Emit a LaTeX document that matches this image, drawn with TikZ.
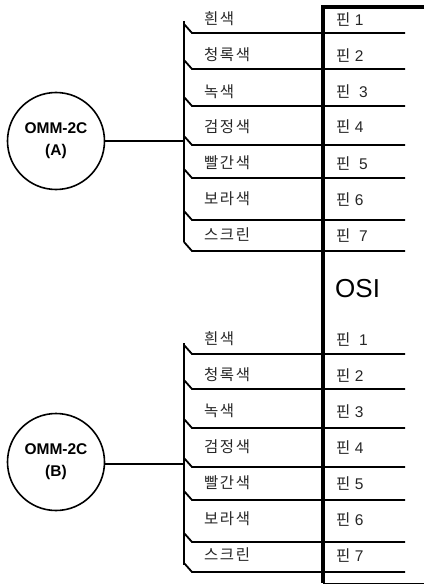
\documentclass[tikz,border=0pt]{standalone}
\usepackage{fontspec}
\setmainfont{Liberation Sans}
\newfontfamily\krfont[LetterSpace=10]{Noto Sans CJK KR}
\usetikzlibrary{positioning}

\tikzset{
  sensor/.style={draw, circle, line width=1.6pt, minimum size=97pt, inner sep=0pt, align=center, font=\fontsize{15.5}{22}\selectfont\bfseries},
  colorlabel/.style={anchor=west, inner sep=0pt, text=black!85, font=\fontsize{15.5}{16}\selectfont\krfont},
  pinlabel/.style={anchor=west, inner sep=0pt, text=black!85, font=\fontsize{15.5}{16}\selectfont},
  wire/.style={line width=1.8pt, line join=miter},
  frame/.style={line width=4pt}
}
\newcommand{\pinword}{{\krfont 핀}}

\begin{document}
\begin{tikzpicture}[x=1pt, y=-1pt]
\useasboundingbox (0,0) rectangle (424,585);

% OSI terminal strip
\coordinate (corner) at (323,7);
\coordinate (topend) at (424,7);
\coordinate (barend) at (323,583);
\coordinate (baseend) at (424,583);
\draw[frame] (topend) -- (corner) -- (barend);
\draw[line width=0.7pt] (barend) -- (baseend);
\node[anchor=west, inner sep=0pt, font=\fontsize{26}{28}\selectfont] (osi) at (335,289) {OSI};

% Sensor A
\node[sensor] (sensora) at (56,141) {OMM-2C\\(A)};
\coordinate (busa) at (184,141);
\coordinate (busatop) at (184,21);
\coordinate (busabot) at (184,242);
\draw[wire] (sensora) -- (busa);
\draw[wire] (busatop) -- (busabot);

% Wires A
\coordinate (wa1) at (192,33);   \coordinate (ea1) at (405,33);
\coordinate (wa2) at (192,69);   \coordinate (ea2) at (405,69);
\coordinate (wa3) at (192,106);  \coordinate (ea3) at (405,106);
\coordinate (wa4) at (192,145);  \coordinate (ea4) at (405,145);
\coordinate (wa5) at (192,178);  \coordinate (ea5) at (405,178);
\coordinate (wa6) at (192,220);  \coordinate (ea6) at (405,220);
\coordinate (wa7) at (192,251);  \coordinate (ea7) at (405,251);
\draw[wire] (ea1) -- (wa1) -- ++(-8,-9);
\draw[wire] (ea2) -- (wa2) -- ++(-8,-9);
\draw[wire] (ea3) -- (wa3) -- ++(-8,-9);
\draw[wire] (ea4) -- (wa4) -- ++(-8,-9);
\draw[wire] (ea5) -- (wa5) -- ++(-8,-9);
\draw[wire] (ea6) -- (wa6) -- ++(-8,-9);
\draw[wire] (ea7) -- (wa7) -- ++(-8,-9);

% Labels A
\node[colorlabel] (ca1) at (204,19) {흰색};
\node[colorlabel] (ca2) at (204,55) {청록색};
\node[colorlabel] (ca3) at (204,92) {녹색};
\node[colorlabel] (ca4) at (204,127) {검정색};
\node[colorlabel] (ca5) at (204,163) {빨간색};
\node[colorlabel] (ca6) at (204,199) {보라색};
\node[colorlabel] (ca7) at (204,235) {스크린};
\node[pinlabel] (pa1) at (336,20) {\pinword\ 1};
\node[pinlabel] (pa2) at (336,56) {\pinword\ 2};
\node[pinlabel] (pa3) at (336,92) {\pinword\ \ 3};
\node[pinlabel] (pa4) at (336,127) {\pinword\ 4};
\node[pinlabel] (pa5) at (336,164) {\pinword\ \ 5};
\node[pinlabel] (pa6) at (336,200) {\pinword\ 6};
\node[pinlabel] (pa7) at (336,236) {\pinword\ \ 7};

% Sensor B
\node[sensor] (sensorb) at (56,462) {OMM-2C\\(B)};
\coordinate (busb) at (184,464);
\coordinate (busbtop) at (184,343);
\coordinate (busbbot) at (184,565);
\draw[wire] (sensorb.east |- busb) -- (busb);
\draw[wire] (busbtop) -- (busbbot);

% Wires B
\coordinate (wb1) at (192,354);  \coordinate (eb1) at (405,354);
\coordinate (wb2) at (192,389);  \coordinate (eb2) at (405,389);
\coordinate (wb3) at (192,428);  \coordinate (eb3) at (405,428);
\coordinate (wb4) at (192,467);  \coordinate (eb4) at (405,467);
\coordinate (wb5) at (192,500);  \coordinate (eb5) at (405,500);
\coordinate (wb6) at (192,542);  \coordinate (eb6) at (405,542);
\coordinate (wb7) at (192,572);  \coordinate (eb7) at (405,572);
\draw[wire] (eb1) -- (wb1) -- ++(-8,-9);
\draw[wire] (eb2) -- (wb2) -- ++(-8,-9);
\draw[wire] (eb3) -- (wb3) -- ++(-8,-9);
\draw[wire] (eb4) -- (wb4) -- ++(-8,-9);
\draw[wire] (eb5) -- (wb5) -- ++(-8,-9);
\draw[wire] (eb6) -- (wb6) -- ++(-8,-9);
\draw[wire] (eb7) -- (wb7) -- ++(-8,-9);

% Labels B
\node[colorlabel] (cb1) at (204,339) {흰색};
\node[colorlabel] (cb2) at (204,375) {청록색};
\node[colorlabel] (cb3) at (204,411) {녹색};
\node[colorlabel] (cb4) at (204,447) {검정색};
\node[colorlabel] (cb5) at (204,483) {빨간색};
\node[colorlabel] (cb6) at (204,519) {보라색};
\node[colorlabel] (cb7) at (204,555) {스크린};
\node[pinlabel] (pb1) at (336,340) {\pinword\ \ 1};
\node[pinlabel] (pb2) at (336,376) {\pinword\ 2};
\node[pinlabel] (pb3) at (336,412) {\pinword\ 3};
\node[pinlabel] (pb4) at (336,448) {\pinword\ 4};
\node[pinlabel] (pb5) at (336,484) {\pinword\ 5};
\node[pinlabel] (pb6) at (336,520) {\pinword\ 6};
\node[pinlabel] (pb7) at (336,556) {\pinword\ 7};
\end{tikzpicture}
\end{document}
